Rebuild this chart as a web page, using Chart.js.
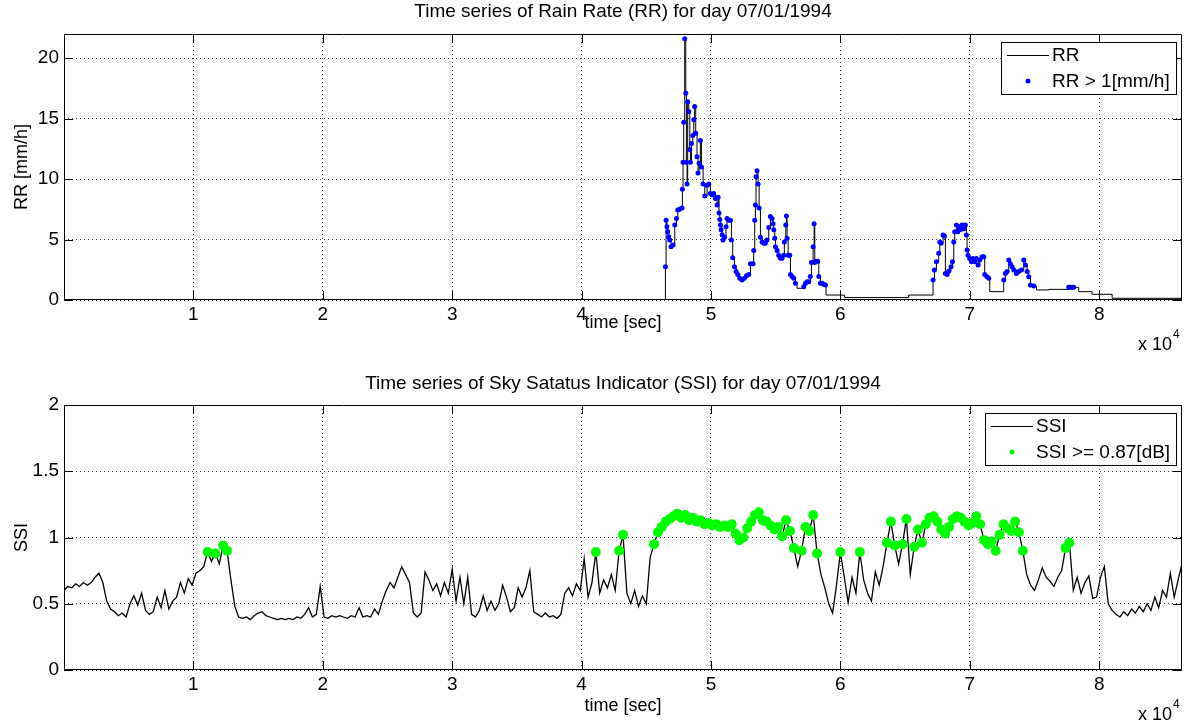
<!DOCTYPE html>
<html>
<head>
<meta charset="utf-8">
<script src="https://cdn.jsdelivr.net/npm/chart.js@4.4.0/dist/chart.umd.min.js"></script>
<style>
  body { margin: 0; background: #fff; }
  #wrap { position: relative; width: 1188px; height: 724px; }
  #wrap canvas { position: absolute; left: 0; }
</style>
</head>
<body>
<div id="wrap">
  <canvas id="rrChart" width="1188" height="362" style="top:0"></canvas>
  <canvas id="ssiChart" width="1188" height="362" style="top:362px"></canvas>
</div>
<script>
// x axis (seconds of the day), shown as multiples of 10^4
const xTicks = [10000, 20000, 30000, 40000, 50000, 60000, 70000, 80000];
const xTickLabels = ["1", "2", "3", "4", "5", "6", "7", "8"];

const rrTicks = [0, 5, 10, 15, 20];
const rrTickLabels = ["0", "5", "10", "15", "20"];
const ssiTicks = [0, 0.5, 1, 1.5, 2];
const ssiTickLabels = ["0", "0.5", "1", "1.5", "2"];

// Rain rate [mm/h] (time in sec)
const rrTime = [
  0, 46400, 46480, 46530, 46600, 46660, 46730, 46810, 46910, 47070, 47200, 47330,
  47430, 47580, 47760, 47790, 47840, 47890, 47970, 48050, 48100, 48150, 48200, 48280,
  48360, 48410, 48490, 48590, 48670, 48740, 48820, 48920, 49000, 49080, 49180, 49260,
  49390, 49520, 49700, 49830, 49950, 50080, 50210, 50340, 50470, 50550, 50620, 50680,
  50730, 50780, 50860, 50930, 51040, 51160, 51240, 51370, 51500, 51580, 51680, 51810,
  51940, 52070, 52220, 52400, 52580, 52740, 52920, 53050, 53250, 53300, 53380, 53430,
  53480, 53560, 53640, 53720, 53820, 53950, 54080, 54200, 54330, 54460, 54590, 54720,
  54800, 54850, 54930, 54980, 55110, 55230, 55360, 55490, 55620, 55670, 55780, 55830,
  55880, 55960, 56080, 56140, 56270, 56390, 56520, 56650, 57170, 57300, 57420, 57550,
  57680, 57760, 57890, 57970, 58020, 58120, 58250, 58330, 58450, 58580, 58710, 58840,
  58890, 59950, 60310, 65280, 67160, 67265, 67420, 67600, 67680, 67780, 67935, 68040,
  68115, 68245, 68370, 68550, 68656, 68760, 68835, 68965, 69070, 69170, 69275, 69400,
  69530, 69660, 69740, 69790, 69865, 69995, 70125, 70250, 70380, 70510, 70640, 70770,
  70950, 71080, 71155, 71335, 71465, 71540, 72620, 72750, 72880, 73010, 73140, 73270,
  73400, 73600, 73780, 73990, 74170, 74300, 74430, 74555, 74685, 74940, 75150, 76100,
  77650, 77780, 77900, 78030, 78420, 79450, 81000, 86400
];
const rrValue = [
  0, 0, 2.75, 6.6, 6.06, 5.65, 5.23, 4.96, 4.4, 4.55, 6.2, 6.75,
  7.44, 7.5, 7.6, 9.15, 11.4, 14.7, 21.6, 17.1, 11.4, 9.6, 16.4, 15.6,
  12.45, 11.4, 12.95, 13.6, 14.9, 16.0, 13.8, 11.85, 10.5, 11.3, 13.2, 11.0,
  9.6, 8.6, 9.5, 9.6, 8.8, 8.7, 8.8, 8.4, 7.85, 8.5, 7.2, 6.65,
  6.2, 5.8, 5.4, 4.96, 5.2, 6.06, 6.75, 6.6, 6.6, 4.96, 3.5, 2.75,
  2.35, 2.1, 1.8, 1.65, 1.8, 2.0, 2.1, 3.0, 3.0, 4.1, 6.6, 7.85,
  10.2, 10.7, 9.6, 7.6, 5.2, 4.8, 4.7, 4.7, 4.96, 6.0, 6.9, 6.75,
  6.3, 5.8, 5.1, 4.4, 4.1, 3.7, 3.45, 3.45, 3.7, 4.8, 6.2, 6.95,
  5.1, 3.7, 3.7, 2.1, 1.95, 1.8, 1.38, 0.97, 1.1, 1.38, 1.5, 1.5,
  1.95, 3.1, 4.4, 6.3, 3.1, 3.2, 3.2, 1.95, 1.38, 1.38, 1.3, 1.25,
  0.41, 0.4, 0.2, 0.41, 1.65, 2.48, 3.17, 3.86, 4.8, 4.7, 5.37, 5.3,
  2.2, 2.1, 2.38, 2.75, 3.17, 4.8, 5.65, 6.2, 5.65, 6.06, 5.8, 6.2,
  5.9, 6.2, 5.37, 4.13, 3.7, 3.44, 3.17, 3.44, 3.17, 3.44, 2.9, 3.3,
  3.58, 3.58, 2.1, 1.93, 1.8, 0.69, 1.65, 2.2, 2.35, 3.3, 3.0, 2.75,
  2.48, 2.2, 2.35, 2.48, 3.3, 2.9, 2.35, 1.93, 1.24, 1.16, 0.83, 0.88,
  1.05, 1.05, 1.05, 1.05, 0.69, 0.47, 0.14, 0.14
];
const rrThreshold = 1;

// Sky status indicator, one reading every 300 s from 0 to 86400 s
const ssiStep = 300;
const ssiValue = [
  0.60, 0.63, 0.62, 0.65, 0.63, 0.66, 0.64, 0.66, 0.70, 0.73, 0.66,
  0.52, 0.46, 0.44, 0.41, 0.43, 0.40, 0.50, 0.56, 0.49, 0.58,
  0.45, 0.42, 0.44, 0.55, 0.47, 0.60, 0.46, 0.52,
  0.55, 0.66, 0.58, 0.69, 0.64, 0.73, 0.75,
  0.78, 0.89, 0.82, 0.88, 0.80, 0.94, 0.90, 0.68, 0.48, 0.40,
  0.39, 0.40, 0.38, 0.41, 0.43, 0.44, 0.41, 0.40, 0.39, 0.38, 0.39, 0.38, 0.39, 0.38, 0.40, 0.39, 0.42, 0.47, 0.40,
  0.42, 0.63, 0.40,
  0.39, 0.41, 0.40, 0.41, 0.40, 0.39, 0.41, 0.40, 0.47, 0.40, 0.41,
  0.40, 0.46, 0.42, 0.52, 0.60, 0.66, 0.62, 0.70, 0.78, 0.72, 0.66, 0.43, 0.40, 0.43,
  0.74, 0.68, 0.60, 0.65, 0.56, 0.66, 0.58, 0.76, 0.52, 0.70, 0.50, 0.70, 0.42, 0.40,
  0.45, 0.56, 0.45, 0.52, 0.45, 0.50, 0.64, 0.55, 0.44, 0.47, 0.62, 0.55, 0.62, 0.75,
  0.44, 0.42, 0.40, 0.43, 0.40, 0.41, 0.39, 0.42, 0.58, 0.62, 0.56, 0.65, 0.60,
  0.84, 0.55, 0.66, 0.89, 0.58, 0.68, 0.62, 0.72, 0.60, 0.90, 1.02, 0.58, 0.50, 0.60, 0.48, 0.56, 0.50,
  0.85, 0.95, 1.04, 1.08, 1.12, 1.14, 1.16, 1.18, 1.15, 1.17, 1.13, 1.15, 1.12, 1.13, 1.10, 1.11, 1.09, 1.10, 1.08, 1.09, 1.08, 1.10,
  1.03, 0.98, 1.00, 1.07, 1.12, 1.17, 1.19, 1.13, 1.12, 1.09, 1.06, 1.08, 1.01, 1.13, 1.05, 0.92, 0.78, 0.90, 1.08, 1.05, 1.17,
  0.88, 0.72, 0.62, 0.50, 0.43, 0.64, 0.89, 0.70, 0.51, 0.70, 0.58, 0.89, 0.68, 0.58, 0.52, 0.74, 0.64, 0.78,
  0.96, 1.12, 0.94, 0.80, 0.95, 1.14, 0.72, 0.93, 1.06, 0.96, 1.10, 1.15, 1.16, 1.12, 1.06, 1.03, 1.08, 1.14, 1.16, 1.15, 1.12, 1.09, 1.11, 1.16, 1.10,
  0.98, 0.95, 0.97, 0.90, 1.02, 1.10, 1.07, 1.05, 1.12, 1.04, 0.90,
  0.72, 0.64, 0.60, 0.68, 0.77, 0.70, 0.67, 0.63, 0.70, 0.75, 0.92, 0.96,
  0.60, 0.70, 0.58, 0.66, 0.71, 0.54, 0.55, 0.70, 0.78, 0.50, 0.45, 0.42, 0.40, 0.44, 0.41,
  0.46, 0.43, 0.48, 0.44, 0.50, 0.45, 0.55, 0.47, 0.60, 0.55, 0.73, 0.55, 0.68, 0.80
];
const ssiThreshold = 0.87;

const FONT = "'Liberation Sans', Arial, Helvetica, sans-serif";
Chart.defaults.font.family = FONT;
Chart.defaults.color = "#000";

const rrPoints = rrTime.map((t, i) => ({ x: t, y: rrValue[i] }));
const ssiPoints = ssiValue.map((v, i) => ({ x: i * ssiStep, y: v }));

// title over the axes, box round them, inward ticks, the x10^4 note and the legend
const framePlugin = {
  id: "frame",
  afterDraw(chart, args, opts) {
    const { ctx, chartArea: a, scales } = chart;
    ctx.save();
    ctx.fillStyle = "#000";
    ctx.textBaseline = "middle";
    ctx.textAlign = "center";
    ctx.font = "19px " + FONT;
    ctx.fillText(opts.title, (a.left + a.right) / 2, a.top - opts.titleGap);

    ctx.strokeStyle = "#000";
    ctx.lineWidth = 1;
    ctx.beginPath();
    ctx.rect(a.left + 0.5, a.top + 0.5, a.right - a.left - 1, a.bottom - a.top - 1);
    scales.x.ticks.forEach((t) => {
      const px = Math.round(scales.x.getPixelForValue(t.value)) + 0.5;
      ctx.moveTo(px, a.bottom); ctx.lineTo(px, a.bottom - 9);
      ctx.moveTo(px, a.top); ctx.lineTo(px, a.top + 9);
    });
    scales.y.ticks.forEach((t) => {
      const py = Math.round(scales.y.getPixelForValue(t.value)) + 0.5;
      ctx.moveTo(a.left, py); ctx.lineTo(a.left + 9, py);
      ctx.moveTo(a.right, py); ctx.lineTo(a.right - 9, py);
    });
    ctx.stroke();

    ctx.font = "18px " + FONT;
    ctx.textAlign = "right";
    ctx.fillText("x 10", a.right - 10, a.bottom + 45);
    ctx.font = "12px " + FONT;
    ctx.textAlign = "left";
    ctx.fillText("4", a.right - 9, a.bottom + 35);

    // legend: line entry first, marker entry second
    const lineSet = chart.data.datasets[1];
    const markSet = chart.data.datasets[0];
    ctx.font = "19px " + FONT;
    const textW = Math.max(ctx.measureText(lineSet.label).width, ctx.measureText(markSet.label).width);
    const w = Math.round(51 + textW + 6);
    const left = Math.round(a.right - 6 - w);
    const top = a.top + 8;
    ctx.fillStyle = "#fff";
    ctx.fillRect(left, top, w, 52);
    ctx.strokeRect(left + 0.5, top + 0.5, w, 52);
    ctx.beginPath();
    ctx.moveTo(left + 6, top + 13.5);
    ctx.lineTo(left + 48, top + 13.5);
    ctx.stroke();
    ctx.fillStyle = markSet.pointBackgroundColor;
    ctx.beginPath();
    ctx.arc(left + 27, top + 39, 2.5, 0, Math.PI * 2);
    ctx.fill();
    ctx.fillStyle = "#000";
    ctx.fillText(lineSet.label, left + 51, top + 14);
    ctx.fillText(markSet.label, left + 51, top + 40);
    ctx.restore();
  },
};

function buildChart(id, o) {
  return new Chart(document.getElementById(id), {
    type: "line",
    data: {
      datasets: [
        {
          label: o.markLabel,
          data: o.marks,
          showLine: false,
          pointRadius: o.markRadius,
          pointBackgroundColor: o.markColor,
          pointBorderWidth: 0,
          order: 0,
        },
        {
          label: o.lineLabel,
          data: o.line,
          borderColor: "#000",
          borderWidth: o.lineWidth,
          pointRadius: 0,
          stepped: o.stepped,
          order: 1,
        },
      ],
    },
    options: {
      responsive: false,
      animation: false,
      events: [],
      layout: { padding: { top: o.areaTop, right: 6 } },
      plugins: {
        legend: { display: false },
        tooltip: { enabled: false },
        frame: { title: o.title, titleGap: o.titleGap },
      },
      scales: {
        x: {
          type: "linear",
          min: 0,
          max: 86400,
          afterFit: (s) => { s.height = o.xHeight; },
          afterBuildTicks: (s) => { s.ticks = xTicks.map((v) => ({ value: v })); },
          ticks: {
            callback: (v) => xTickLabels[xTicks.indexOf(v)],
            font: { size: 19 },
            color: "#000",
            padding: 3,
            maxRotation: 0,
            autoSkip: false,
          },
          grid: { color: "rgba(0,0,0,0.75)", lineWidth: 1, drawTicks: false },
          border: { display: false, dash: [1, 3] },
          title: {
            display: true,
            text: "time [sec]",
            font: { size: 18 },
            color: "#000",
            padding: { top: 0, bottom: o.xTitlePad },
          },
        },
        y: {
          type: "linear",
          min: o.yMin,
          max: o.yMax,
          afterFit: (s) => { s.width = 64; },
          afterBuildTicks: (s) => { s.ticks = o.yTicks.map((v) => ({ value: v })); },
          ticks: {
            callback: (v) => o.yTickLabels[o.yTicks.indexOf(v)],
            font: { size: 19 },
            color: "#000",
            padding: 5,
          },
          grid: { color: "rgba(0,0,0,0.75)", lineWidth: 1, drawTicks: false },
          border: { display: false, dash: [1, 3] },
          title: {
            display: true,
            text: o.yTitle,
            font: { size: 18 },
            color: "#000",
            padding: { top: 11, bottom: 0 },
          },
        },
      },
    },
    plugins: [framePlugin],
  });
}

buildChart("rrChart", {
  title: "Time series of Rain Rate (RR) for day 07/01/1994",
  areaTop: 34,
  titleGap: 22,
  lineLabel: "RR",
  markLabel: "RR > 1[mm/h]",
  line: rrPoints,
  marks: rrPoints.filter((p) => p.y > rrThreshold),
  markColor: "#0000ff",
  markRadius: 2.5,
  lineWidth: 1,
  stepped: "before",
  xHeight: 62,
  xTitlePad: 28,
  yMin: 0,
  yMax: 22,
  yTicks: rrTicks,
  yTickLabels: rrTickLabels,
  yTitle: "RR [mm/h]",
});

buildChart("ssiChart", {
  title: "Time series of Sky Satatus Indicator (SSI) for day 07/01/1994",
  areaTop: 43,
  titleGap: 21,
  lineLabel: "SSI",
  markLabel: "SSI >= 0.87[dB]",
  line: ssiPoints,
  marks: ssiPoints.filter((p) => p.y >= ssiThreshold),
  markColor: "#00ff00",
  markRadius: 5,
  lineWidth: 1.3,
  stepped: false,
  xHeight: 54,
  xTitlePad: 7,
  yMin: 0,
  yMax: 2,
  yTicks: ssiTicks,
  yTickLabels: ssiTickLabels,
  yTitle: "SSI",
});
</script>
</body>
</html>
